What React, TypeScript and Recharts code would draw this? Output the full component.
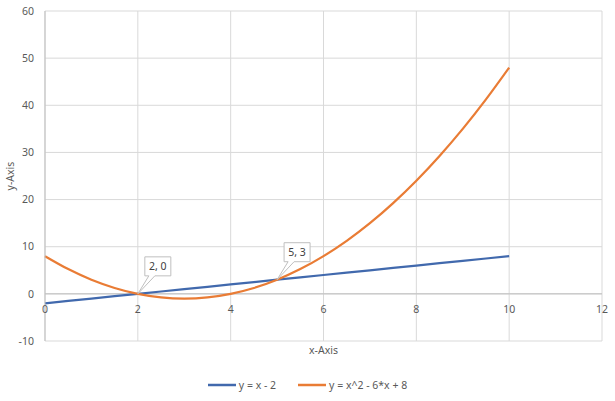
import React from "react"
import {
  ComposedChart,
  Line,
  XAxis,
  YAxis,
  CartesianGrid,
  Legend,
  ReferenceLine,
  ReferenceDot,
} from "recharts"

// x positions sampled along both curves
const xs = [0, 0.5, 1, 1.5, 2, 2.5, 3, 3.5, 4, 4.5, 5, 5.5, 6, 6.5, 7, 7.5, 8, 8.5, 9, 9.5, 10]
// y = x - 2
const lineYs = [-2, -1.5, -1, -0.5, 0, 0.5, 1, 1.5, 2, 2.5, 3, 3.5, 4, 4.5, 5, 5.5, 6, 6.5, 7, 7.5, 8]
// y = x^2 - 6*x + 8
const parabolaYs = [
  8, 5.25, 3, 1.25, 0, -0.75, -1, -0.75, 0, 1.25, 3, 5.25, 8, 11.25, 15, 19.25, 24, 29.25, 35, 41.25, 48,
]

const xTicks = [0, 2, 4, 6, 8, 10, 12]
const yTicks = [-10, 0, 10, 20, 30, 40, 50, 60]

// intersection points labelled on the chart
const callouts = [
  { x: 2, y: 0, text: "2, 0" },
  { x: 5, y: 3, text: "5, 3" },
]

const rows = xs.map((x, i) => ({ x, line: lineYs[i], parabola: parabolaYs[i] }))

const FONT = "'Noto Sans', sans-serif"
const FS = 10.5
const TEXT = "#595959"
const BLUE = "#4169ad"
const ORANGE = "#e97c35"

function XTick({ x, y, payload }: any) {
  // Excel draws the x tick labels just under the y = 0 line
  return (
    <text x={x} y={y - 28} textAnchor="middle" fill={TEXT} fontSize={FS} fontFamily={FONT}>
      {payload.value}
    </text>
  )
}

function Callout({ cx, cy, text }: any) {
  const l = cx + 7
  const t = cy - 37
  const w = 26
  const h = 19
  const d = `M${l},${t} H${l + w} V${t + h} H${l + 10} L${cx},${cy} L${l + 4},${t + h} H${l} Z`
  return (
    <g>
      <path d={d} fill="#ffffff" stroke="#bfbfbf" strokeWidth={1} />
      <text
        x={l + w / 2}
        y={t + h / 2 + 4}
        textAnchor="middle"
        fill="#404040"
        fontSize={FS}
        fontFamily={FONT}
      >
        {text}
      </text>
    </g>
  )
}

function LegendContent({ payload }: any) {
  return (
    <div style={{ display: "flex", justifyContent: "center", gap: 22, fontFamily: FONT, fontSize: FS, color: TEXT }}>
      {(payload || []).map((p: any) => (
        <div key={p.value} style={{ display: "flex", alignItems: "center", gap: 3, lineHeight: "16px" }}>
          <svg width={28} height={6}>
            <line x1={0} y1={3} x2={28} y2={3} stroke={p.color} strokeWidth={2.5} />
          </svg>
          <span>{p.value}</span>
        </div>
      ))}
    </div>
  )
}

export default function App() {
  return (
    <div style={{ position: "absolute", left: 0, top: 0, background: "#ffffff" }}>
      <ComposedChart
        width={615}
        height={401}
        data={rows}
        margin={{ top: 11, right: 13, left: 0, bottom: 35 }}
      >
        <CartesianGrid stroke="#d9d9d9" strokeWidth={1} />
        <XAxis
          dataKey="x"
          type="number"
          domain={[0, 12]}
          ticks={xTicks}
          height={25}
          axisLine={false}
          tickLine={false}
          tickSize={0}
          tickMargin={0}
          tick={<XTick />}
          label={{ value: "x-Axis", position: "insideTop", offset: 6, fill: TEXT, fontSize: FS, fontFamily: FONT }}
        />
        <YAxis
          type="number"
          domain={[-10, 60]}
          ticks={yTicks}
          width={45}
          axisLine={{ stroke: "#bfbfbf" }}
          tickLine={false}
          tickSize={0}
          tickMargin={11}
          tick={{ fill: TEXT, fontSize: FS, fontFamily: FONT }}
          label={{
            value: "y-Axis",
            angle: -90,
            position: "insideLeft",
            offset: 10,
            fill: TEXT,
            fontSize: FS,
            fontFamily: FONT,
            style: { textAnchor: "middle" },
          }}
        />
        <ReferenceLine y={0} stroke="#bfbfbf" strokeWidth={1} />
        <Line
          dataKey="line"
          name="y = x - 2"
          stroke={BLUE}
          strokeWidth={2.25}
          dot={false}
          type="linear"
          isAnimationActive={false}
        />
        <Line
          dataKey="parabola"
          name="y = x^2 - 6*x + 8"
          stroke={ORANGE}
          strokeWidth={2.25}
          dot={false}
          type="natural"
          isAnimationActive={false}
        />
        {callouts.map((c) => (
          <ReferenceDot
            key={c.text}
            x={c.x}
            y={c.y}
            r={0}
            shape={(p: any) => <Callout cx={p.cx} cy={p.cy} text={c.text} />}
          />
        ))}
        <Legend
          verticalAlign="middle"
          layout="horizontal"
          content={<LegendContent />}
          wrapperStyle={{ top: 377, left: 0, width: 615 }}
        />
      </ComposedChart>
    </div>
  )
}
